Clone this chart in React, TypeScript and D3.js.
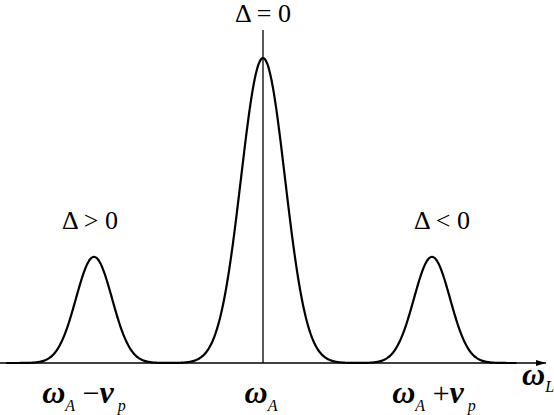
import React from 'react';
import * as d3 from 'd3';

// peak parameters (frequency in units of nu_p)
const peakCenters = [-1, 0, 1];
const peakHeights = [0.348, 1, 0.348];
const peakWidths = [0.107, 0.13, 0.107];
const peakLabels = ['Δ > 0', 'Δ = 0', 'Δ < 0'];
const axisSigns = ['−', '', '+'];
const curveRange = [-1.52, 1.5];

const W = 554;
const H = 415;
const FONT = 'Liberation Serif';

const x = d3.scaleLinear().domain([-1, 1]).range([94, 432]);
const y = d3.scaleLinear().domain([0, 1]).range([363, 58]);

const spectrum = (f: number) =>
  d3.sum(peakCenters, (c, i) => peakHeights[i] * Math.exp(-((f - c) ** 2) / (2 * peakWidths[i] ** 2)));

const App = () => {
  const pts = d3.range(curveRange[0], curveRange[1] + 0.001, 0.005).map(f => [f, spectrum(f)] as [number, number]);
  const line = d3.line<[number, number]>().x(d => x(d[0])).y(d => y(d[1])).curve(d3.curveBasis);

  const labelY = [229, 22, 229];
  const labelDx = [-4, 0, 10];
  const axisDx = [-10, -2, 2];

  return (
    <svg width={W} height={H} style={{ position: 'absolute', left: 0, top: 0 }}>
      <defs>
        <marker id="arr" viewBox="0 0 10 6" refX={10} refY={3} markerWidth={10} markerHeight={6}
          markerUnits="userSpaceOnUse" orient="auto">
          <path d="M0,0 L10,3 L0,6 Z" fill="#000" />
        </marker>
      </defs>

      {/* frequency axis */}
      <line x1={0} x2={546} y1={y(0)} y2={y(0)} stroke="#000" strokeWidth={1.3} markerEnd="url(#arr)" />
      {/* resonance line */}
      <line x1={x(0)} x2={x(0)} y1={30} y2={y(0)} stroke="#000" strokeWidth={1.3} />

      <path d={line(pts) || ''} fill="none" stroke="#000" strokeWidth={2.2} />

      {peakLabels.map((l, i) => (
        <text key={l} x={x(peakCenters[i]) + labelDx[i]} y={labelY[i]} textAnchor="middle"
          fontFamily={FONT} fontSize={26}>
          {l}
        </text>
      ))}

      {axisSigns.map((s, i) => (
        <text key={i} x={x(peakCenters[i]) + axisDx[i]} y={403} textAnchor="middle" fontFamily={FONT}>
          <tspan fontSize={32} fontWeight="bold" fontStyle="italic">ω</tspan>
          <tspan dy={8} fontSize={16} fontStyle="italic">A</tspan>
          {s && (
            <>
              <tspan dy={-8} fontSize={30}>{' ' + s}</tspan>
              <tspan fontSize={32} fontWeight="bold" fontStyle="italic">ν</tspan>
              <tspan dy={8} fontSize={16} fontStyle="italic">{' p'}</tspan>
            </>
          )}
        </text>
      ))}

      <text x={522} y={385} fontFamily={FONT}>
        <tspan fontSize={32} fontWeight="bold" fontStyle="italic">ω</tspan>
        <tspan dy={7} fontSize={16} fontStyle="italic">L</tspan>
      </text>
    </svg>
  );
};

export default App;
